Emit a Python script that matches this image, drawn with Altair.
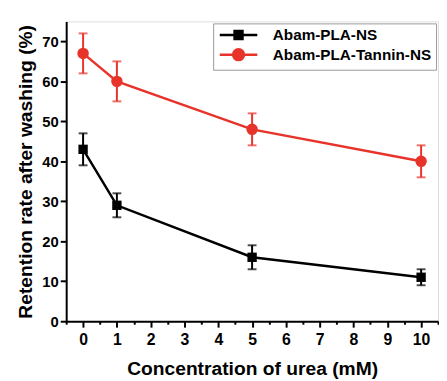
import altair as alt
import pandas as pd

urea = [0, 1, 5, 10]
series_names = ["Abam-PLA-NS", "Abam-PLA-Tannin-NS"]
ns_mean = [43, 29, 16, 11]
ns_err = [4, 3, 3, 2]
tan_mean = [67, 60, 48, 40]
tan_err = [5, 5, 4, 4]
x_ticks = [i * 0.5 for i in range(-1, 22)]
y_ticks = list(range(0, 80, 5))
colors = ["#000000", "#e8332b"]

rows = []
for name, means, errs in [(series_names[0], ns_mean, ns_err), (series_names[1], tan_mean, tan_err)]:
    for x, m, e in zip(urea, means, errs):
        rows.append({"series": name, "x": x, "y": m, "lo": m - e, "hi": m + e})
df = pd.DataFrame(rows)

FONT = "Liberation Sans"
xscale = alt.Scale(domain=[-0.5, 10.5], nice=False, zero=False)
yscale = alt.Scale(domain=[0, 75], nice=False)
cscale = alt.Scale(domain=series_names, range=colors)

xaxis = alt.Axis(values=x_ticks, title="Concentration of urea (mM)", grid=False,
                 labelExpr="(datum.value % 1 == 0 && datum.value >= 0) ? ('' + datum.value) : ''",
                 labelOverlap=False,
                 labelFont=FONT, labelFontSize=16, labelFontWeight="bold", labelColor="black",
                 titleFont=FONT, titleFontSize=19.5, titleFontWeight="bold", titleColor="black",
                 titlePadding=12,
                 tickSize={"condition": {"test": "datum.value % 1 == 0", "value": 6}, "value": 3},
                 tickWidth=2, tickColor="black",
                 domainColor="black", domainWidth=2, labelPadding=5, labelFlush=False)
yaxis = alt.Axis(values=y_ticks, title="Retention rate after washing (%)", grid=False,
                 labelFont=FONT, labelFontSize=15, labelFontWeight="bold", labelColor="black",
                 titleFont=FONT, titleFontSize=19.5, titleFontWeight="bold", titleColor="black",
                 titlePadding=6, tickSize=6,
                 tickWidth=2, tickColor="black",
                 domainColor="black", domainWidth=2, labelPadding=2, labelFlush=False)

X = alt.X("x:Q", scale=xscale, axis=xaxis)
Y = alt.Y("y:Q", scale=yscale, axis=yaxis)


def series_layers(name, color, shape, size):
    b = alt.Chart(df).transform_filter(alt.datum.series == name)
    return [
        b.mark_line(strokeWidth=2.5, color=color).encode(x=X, y=Y),
        b.mark_rule(strokeWidth=2, color=color).encode(x=X, y="lo:Q", y2="hi:Q"),
        b.mark_tick(orient="horizontal", size=9, thickness=2, color=color).encode(x=X, y="lo:Q"),
        b.mark_tick(orient="horizontal", size=9, thickness=2, color=color).encode(x=X, y="hi:Q"),
        b.mark_point(shape=shape, filled=True, size=size, opacity=1, color=color).encode(x=X, y=Y),
    ]


# legend symbols (unit = 6 px): a 38 px line with a stroke-filled marker in the middle
def sq(h):
    return f"M-{h},-{h}H{h}V{h}H-{h}Z"


def ring(r):
    return f"M{r},0A{r},{r} 0 1,1 -{r},0A{r},{r} 0 1,1 {r},0Z"


legend_paths = [
    "M-3.17,0H3.17" + sq(0.67) + sq(0.42) + sq(0.17),
    "M-3.17,0H3.17" + ring(0.92) + ring(0.63) + ring(0.37) + ring(0.12),
]

leg = alt.Legend(
    title=None, orient="top-right", offset=2,
    strokeColor="#9a9a9a", padding=4, labelFont=FONT, labelFontSize=15.5,
    labelFontWeight="bold", labelColor="black", labelLimit=260, symbolSize=144,
    symbolStrokeWidth=2.5, symbolOffset=14, labelOffset=27, rowPadding=0,
    symbolOpacity=1,
)

legend_layer = alt.Chart(df).transform_filter("datum.x > 1000").mark_point(
    filled=False, strokeWidth=2.5).encode(
    x=X, y=Y,
    color=alt.Color("series:N", scale=cscale, legend=leg),
    shape=alt.Shape("series:N", scale=alt.Scale(domain=series_names, range=legend_paths), legend=leg),
)

layers = (series_layers(series_names[0], colors[0], "square", 90)
          + series_layers(series_names[1], colors[1], "circle", 135)
          + [legend_layer])

chart = alt.layer(*layers).properties(
    width=377, height=304
).configure_view(stroke=None).configure(
    background="white", padding={"left": 8, "top": 11, "right": 0, "bottom": 0}
)

chart.save("out.html", embed_options={"renderer": "svg", "actions": False})
